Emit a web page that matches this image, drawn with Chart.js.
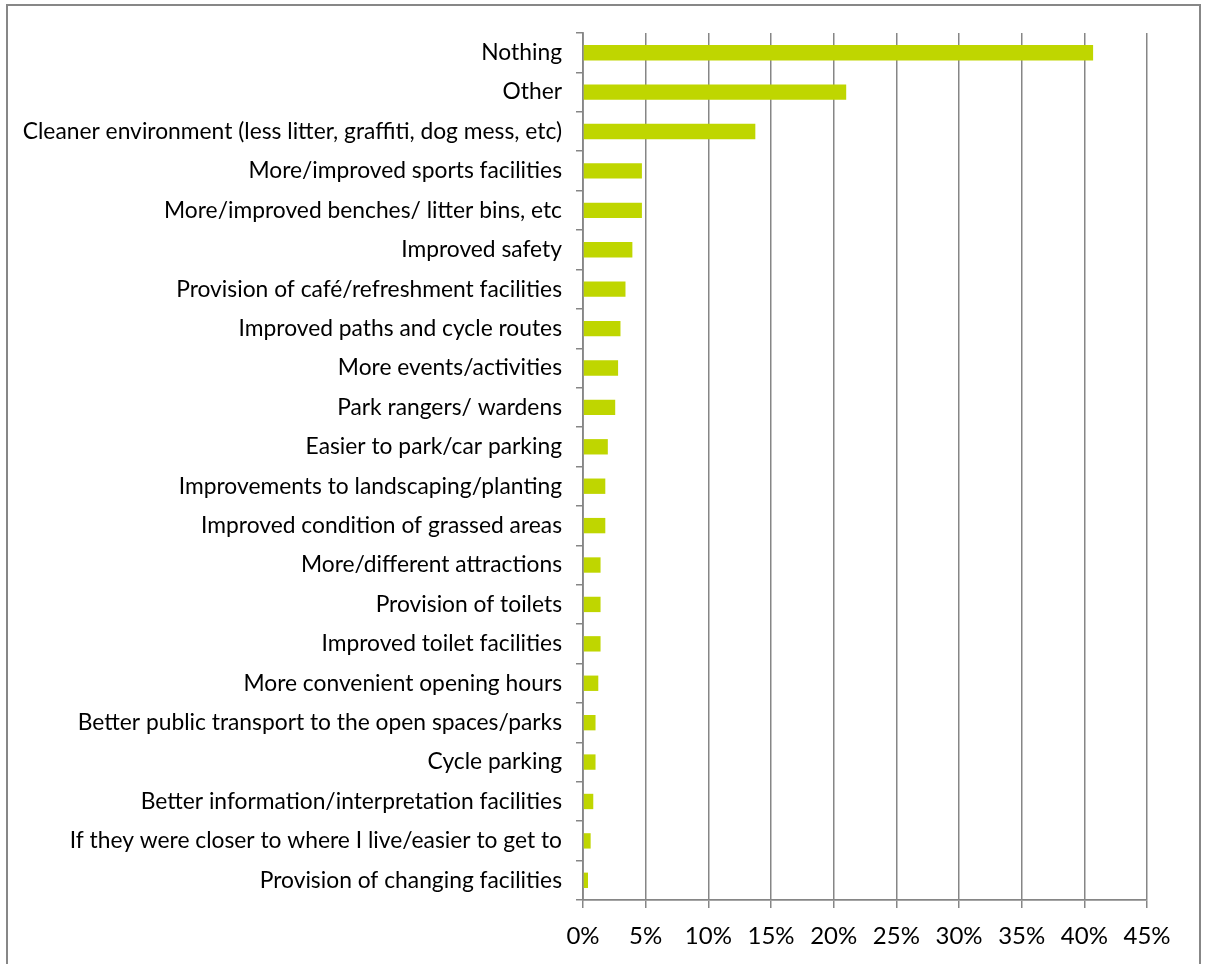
<!DOCTYPE html>
<html>
<head>
<meta charset="utf-8">
<script src="https://cdn.jsdelivr.net/npm/chart.js@4"></script>
<style>
  html, body { margin: 0; padding: 0; background: #fff; overflow: hidden; }
  #frame { position: absolute; left: 6px; top: 4px; width: 1191px; height: 1000px; border: 2px solid #878787; }
  #grafico { position: absolute; left: 0; top: 0; }
</style>
</head>
<body>
<div id="frame"></div>
<canvas id="grafico" width="1205" height="964"></canvas>
<script>
const categorias = [
  'Nothing',
  'Other',
  'Cleaner environment (less litter, graffiti, dog mess, etc)',
  'More/improved sports facilities',
  'More/improved benches/ litter bins, etc',
  'Improved safety',
  'Provision of café/refreshment facilities',
  'Improved paths and cycle routes',
  'More events/activities',
  'Park rangers/ wardens',
  'Easier to park/car parking',
  'Improvements to landscaping/planting',
  'Improved condition of grassed areas',
  'More/different attractions',
  'Provision of toilets',
  'Improved toilet facilities',
  'More convenient opening hours',
  'Better public transport to the open spaces/parks',
  'Cycle parking',
  'Better information/interpretation facilities',
  'If they were closer to where I live/easier to get to',
  'Provision of changing facilities'
];
const porcentajes = [40.7, 21.0, 13.75, 4.7, 4.7, 3.94, 3.39, 2.99, 2.8, 2.57, 1.98, 1.78, 1.78, 1.4, 1.4, 1.4, 1.22, 1.0, 1.0, 0.82, 0.61, 0.4];
const ticksX = [0, 5, 10, 15, 20, 25, 30, 35, 40, 45];

const gris = '#868686';

new Chart(document.getElementById('grafico'), {
  type: 'bar',
  data: {
    labels: categorias,
    datasets: [{
      data: porcentajes,
      backgroundColor: '#bfd600',
      borderWidth: 0,
      barPercentage: 0.39,
      categoryPercentage: 1
    }]
  },
  options: {
    indexAxis: 'y',
    responsive: false,
    animation: false,
    layout: { padding: { top: 33, right: 58, left: 0, bottom: 0 } },
    plugins: { legend: { display: false }, tooltip: { enabled: false } },
    scales: {
      x: {
        min: 0,
        max: 45,
        afterBuildTicks: s => { s.ticks = ticksX.map(v => ({ value: v })); },
        afterFit: s => { s.height = 64; },
        ticks: {
          callback: v => v + '%',
          color: '#000',
          font: { family: 'Lato', size: 24 },
          padding: 14,
          maxRotation: 0
        },
        grid: { color: gris, lineWidth: 1.5, tickLength: 8 },
        border: { display: true, color: gris, width: 1.8 }
      },
      y: {
        afterFit: s => { s.width = 583; },
        ticks: {
          color: '#000',
          font: { family: 'Lato', size: 22.8 },
          padding: 14,
          autoSkip: false
        },
        grid: { offset: true, drawOnChartArea: false, drawTicks: true, tickLength: 7, color: gris, lineWidth: 1.5 },
        border: { display: true, color: gris, width: 1.8 }
      }
    }
  }
});
</script>
</body>
</html>
